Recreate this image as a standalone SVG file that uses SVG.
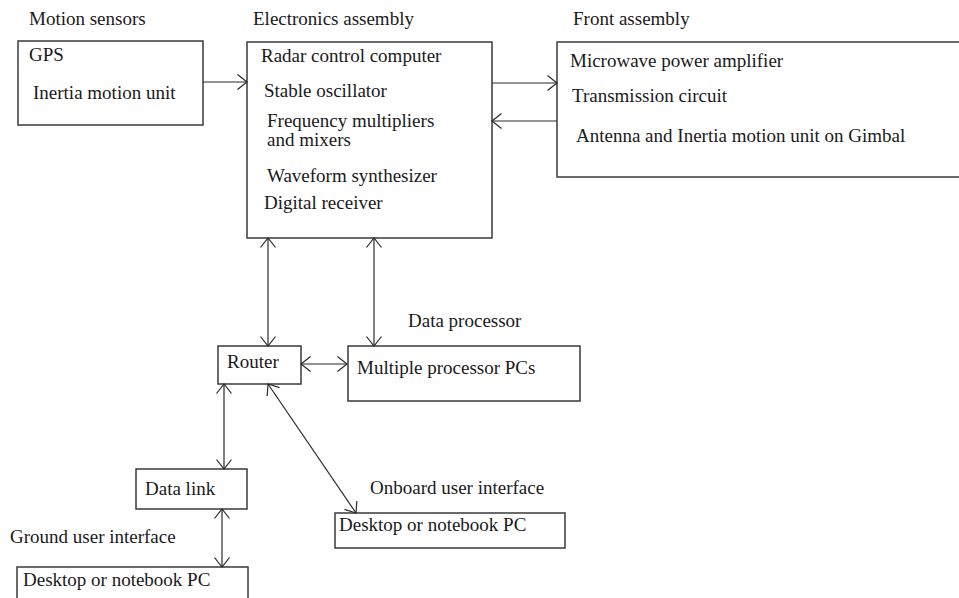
<svg xmlns="http://www.w3.org/2000/svg" width="959" height="598" viewBox="0 0 959 598">
<style>
  .box { fill: #ffffff; stroke: #3a3a3a; stroke-width: 1.5; }
  .t { font-family: "Liberation Serif", "Times New Roman", serif; font-size: 19px; fill: #1a1a1a; }
  .c { fill: none; stroke: #2a2a2a; stroke-width: 1.2; }
  .ah { fill: none; stroke: #2a2a2a; stroke-width: 1.2; }
</style>
<defs>
  <marker id="arr" markerUnits="userSpaceOnUse" markerWidth="20" markerHeight="20" refX="10" refY="10" orient="auto-start-reverse" viewBox="0 0 20 20">
    <path class="ah" d="M0.5,2.5 L10,10 L0.5,17.5"/>
  </marker>
</defs>
<rect width="959" height="598" fill="#ffffff"/>

<g id="motion-sensors">
  <text class="t" x="29" y="25">Motion sensors</text>
  <rect class="box" x="18" y="41" width="185" height="84"/>
  <text class="t" x="29" y="61">GPS</text>
  <text class="t" x="33" y="99">Inertia motion unit</text>
</g>

<g id="electronics-assembly">
  <text class="t" x="253" y="25">Electronics assembly</text>
  <rect class="box" x="247" y="42" width="245" height="196"/>
  <text class="t" x="261" y="62">Radar control computer</text>
  <text class="t" x="264" y="97">Stable oscillator</text>
  <text class="t" x="267" y="127">Frequency multipliers</text>
  <text class="t" x="267" y="146">and mixers</text>
  <text class="t" x="267" y="182">Waveform synthesizer</text>
  <text class="t" x="264" y="209">Digital receiver</text>
</g>

<g id="front-assembly">
  <text class="t" x="573" y="25">Front assembly</text>
  <rect class="box" x="557" y="42" width="410" height="135"/>
  <text class="t" x="570" y="67">Microwave power amplifier</text>
  <text class="t" x="572" y="102">Transmission circuit</text>
  <text class="t" x="576" y="142">Antenna and Inertia motion unit on Gimbal</text>
</g>

<g id="router">
  <rect class="box" x="218" y="346" width="83" height="38"/>
  <text class="t" x="227" y="368">Router</text>
</g>

<g id="data-processor">
  <text class="t" x="408" y="327">Data processor</text>
  <rect class="box" x="348" y="346" width="232" height="55"/>
  <text class="t" x="357" y="374">Multiple processor PCs</text>
</g>

<g id="data-link">
  <rect class="box" x="136" y="469" width="111" height="40"/>
  <text class="t" x="145" y="495">Data link</text>
</g>

<g id="onboard-ui">
  <text class="t" x="370" y="494">Onboard user interface</text>
  <rect class="box" x="335" y="513" width="230" height="35"/>
  <text class="t" x="339" y="531">Desktop or notebook PC</text>
</g>

<g id="ground-ui">
  <text class="t" x="10" y="543">Ground user interface</text>
  <rect class="box" x="17" y="567" width="231" height="40"/>
  <text class="t" x="23" y="586">Desktop or notebook PC</text>
</g>

<g id="connectors">
  <line class="c" x1="203" y1="82" x2="247" y2="82" marker-end="url(#arr)"/>
  <line class="c" x1="492" y1="83" x2="557" y2="83" marker-end="url(#arr)"/>
  <line class="c" x1="557" y1="121" x2="492" y2="121" marker-end="url(#arr)"/>
  <line class="c" x1="268" y1="238" x2="268" y2="346" marker-start="url(#arr)" marker-end="url(#arr)"/>
  <line class="c" x1="374" y1="238" x2="374" y2="346" marker-start="url(#arr)" marker-end="url(#arr)"/>
  <line class="c" x1="301" y1="364" x2="347" y2="364" marker-start="url(#arr)" marker-end="url(#arr)"/>
  <line class="c" x1="224" y1="384" x2="224" y2="469" marker-start="url(#arr)" marker-end="url(#arr)"/>
  <line class="c" x1="222" y1="509" x2="222" y2="567" marker-start="url(#arr)" marker-end="url(#arr)"/>
  <line class="c" x1="268" y1="384" x2="356" y2="513" marker-start="url(#arr)" marker-end="url(#arr)"/>
</g>
</svg>
